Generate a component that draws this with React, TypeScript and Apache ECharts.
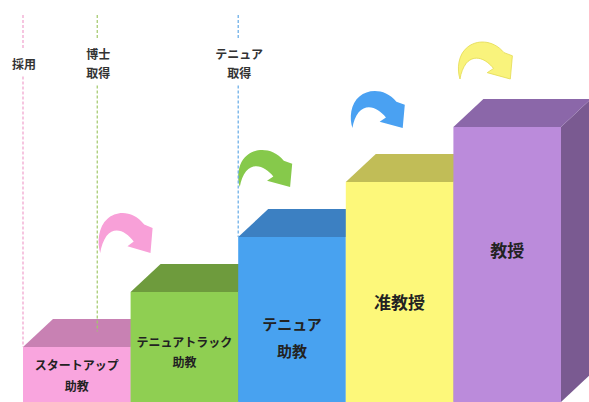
import React, { useEffect, useRef } from "react";
import * as echarts from "echarts";

// ---- data ----
const categories = ["スタートアップ\n助教", "テニュアトラック\n助教", "テニュア\n助教", "准教授", "教授"];
const levels = [1, 2, 3, 4, 5];
const milestoneLabels = ["採用", "博士\n取得", "テニュア\n取得"];
const milestonePositions = [0, 0.69, 2];
const milestoneEnds = [1, 1.28, 3];

// ---- styles ----
const FRONT = ["#f9a5de", "#8fcf52", "#48a2f0", "#fdf87a", "#bb8bdb"];
const TOP = ["#c881b3", "#6e9b3d", "#3c80c2", "#c1bd57", "#8b67a9"];
const SIDE = ["#a96b97", "#5d8433", "#326ca3", "#a39f48", "#7a5a91"];
const ARROW = ["#f8a0d8", "#86c94b", "#4aa1f2", "#f9f37c"];
const ARROW_STROKE = ["none", "none", "none", "#e3da52"];
const LINE = ["#f0a0cc", "#a2c86a", "#62a9e6"];
const LABEL_SIZE = [12, 12, 15, 17, 17];
const LABEL_LH = [21, 20, 27, 20, 20];
const LABEL_SHIFT = [0.5, 4.5, 17, 9, -15];
const ARROW_DX = [-32, 0, 5, 5];
const ARROW_DY = [-39, -50, -54, -48];
const ARROW_H = [40, 37, 37, 37];
const FONT = '"Noto Sans CJK JP", "Noto Sans", sans-serif';

const ARROW_D =
  "M 3 37 C 0 28 1 14 10 7 C 18 0 34 -1 45 12 L 53 15 L 51 37 L 29 31 L 35 27 C 28 18 17 13 9 22 C 6 26 4 31 3 37 Z";

export default function App() {
  const ref = useRef<HTMLDivElement>(null);
  useEffect(() => {
    document.body.style.margin = "0";
    const chart = echarts.init(ref.current!, null, { renderer: "svg" });
    const DX = 30;
    const DY = 28;
    chart.setOption({
      animation: false,
      backgroundColor: "#ffffff",
      grid: { left: 23, right: 28, top: 17, bottom: -7 },
      xAxis: { type: "value", min: 0, max: 5, show: false },
      yAxis: { type: "value", min: 0, max: 7, show: false },
      series: [
        {
          type: "custom",
          z: 2,
          data: levels.map((v, i) => [i, v]),
          renderItem: (params: any, api: any) => {
            const i = api.value(0);
            const v = api.value(1);
            const p0 = api.coord([i, v]);
            const p1 = api.coord([i + 1, v]);
            const b = api.coord([i, 0]);
            const x0 = p0[0];
            const x1 = p1[0];
            const yT = p0[1];
            const yB = b[1];
            const visB = Math.min(yB, api.getHeight());
            const children: any[] = [
              {
                type: "polygon",
                shape: { points: [[x1, yT], [x1 + DX, yT - DY], [x1 + DX, yB - DY], [x1, yB]] },
                style: { fill: SIDE[i] },
              },
              {
                type: "rect",
                shape: { x: x0, y: yT, width: x1 - x0, height: yB - yT },
                style: { fill: FRONT[i] },
              },
              {
                type: "polygon",
                shape: { points: [[x0, yT], [x1, yT], [x1 + DX, yT - DY], [x0 + DX, yT - DY]] },
                style: { fill: TOP[i] },
              },
              {
                type: "text",
                style: {
                  text: categories[i],
                  x: (x0 + x1) / 2,
                  y: (yT + visB) / 2 + LABEL_SHIFT[i],
                  textAlign: "center",
                  textVerticalAlign: "middle",
                  fontSize: LABEL_SIZE[i],
                  lineHeight: LABEL_LH[i],
                  fontWeight: "bold",
                  fontFamily: FONT,
                  fill: "#222222",
                },
              },
            ];
            if (i > 0) {
              const k = i - 1;
              const h = ARROW_H[k];
              children.push({
                type: "path",
                shape: {
                  pathData: ARROW_D,
                  x: x0 + ARROW_DX[k],
                  y: yT + ARROW_DY[k] - h,
                  width: 54,
                  height: h,
                  layout: "cover",
                },
                style: {
                  fill: ARROW[k],
                  stroke: ARROW_STROKE[k],
                  lineWidth: 0.8,
                },
              });
            }
            return { type: "group", children };
          },
        },
        {
          type: "custom",
          z: 5,
          data: milestonePositions.map((p, k) => [p, milestoneEnds[k], k]),
          renderItem: (params: any, api: any) => {
            const k = api.value(2);
            const end = api.coord([api.value(0), api.value(1)]);
            const x = end[0];
            const top = api.coord([0, 7])[1] - 2;
            const label = milestoneLabels[k];
            const lines = label.split("\n").length;
            const c = top + 48 - (lines > 1 ? 0.5 : 0);
            const half = (lines * 19) / 2;
            const gapTop = c - half - 4;
            const gapBottom = c + half + 4;
            const lineStyle = { stroke: LINE[k], lineWidth: 1.2, lineDash: [3, 2] };
            return {
              type: "group",
              children: [
                { type: "line", shape: { x1: x, y1: top, x2: x, y2: gapTop }, style: lineStyle },
                { type: "line", shape: { x1: x, y1: gapBottom, x2: x, y2: end[1] }, style: lineStyle },
                {
                  type: "text",
                  style: {
                    text: label,
                    x: x + 1,
                    y: c,
                    textAlign: "center",
                    textVerticalAlign: "middle",
                    fontSize: 12,
                    lineHeight: 19,
                    fontWeight: "bold",
                    fontFamily: FONT,
                    fill: "#333333",
                  },
                },
              ],
            };
          },
        },
      ],
    });
    return () => chart.dispose();
  }, []);
  return (
    <div
      ref={ref}
      style={{ position: "absolute", left: 0, top: 0, width: 589, height: 402 }}
    />
  );
}
